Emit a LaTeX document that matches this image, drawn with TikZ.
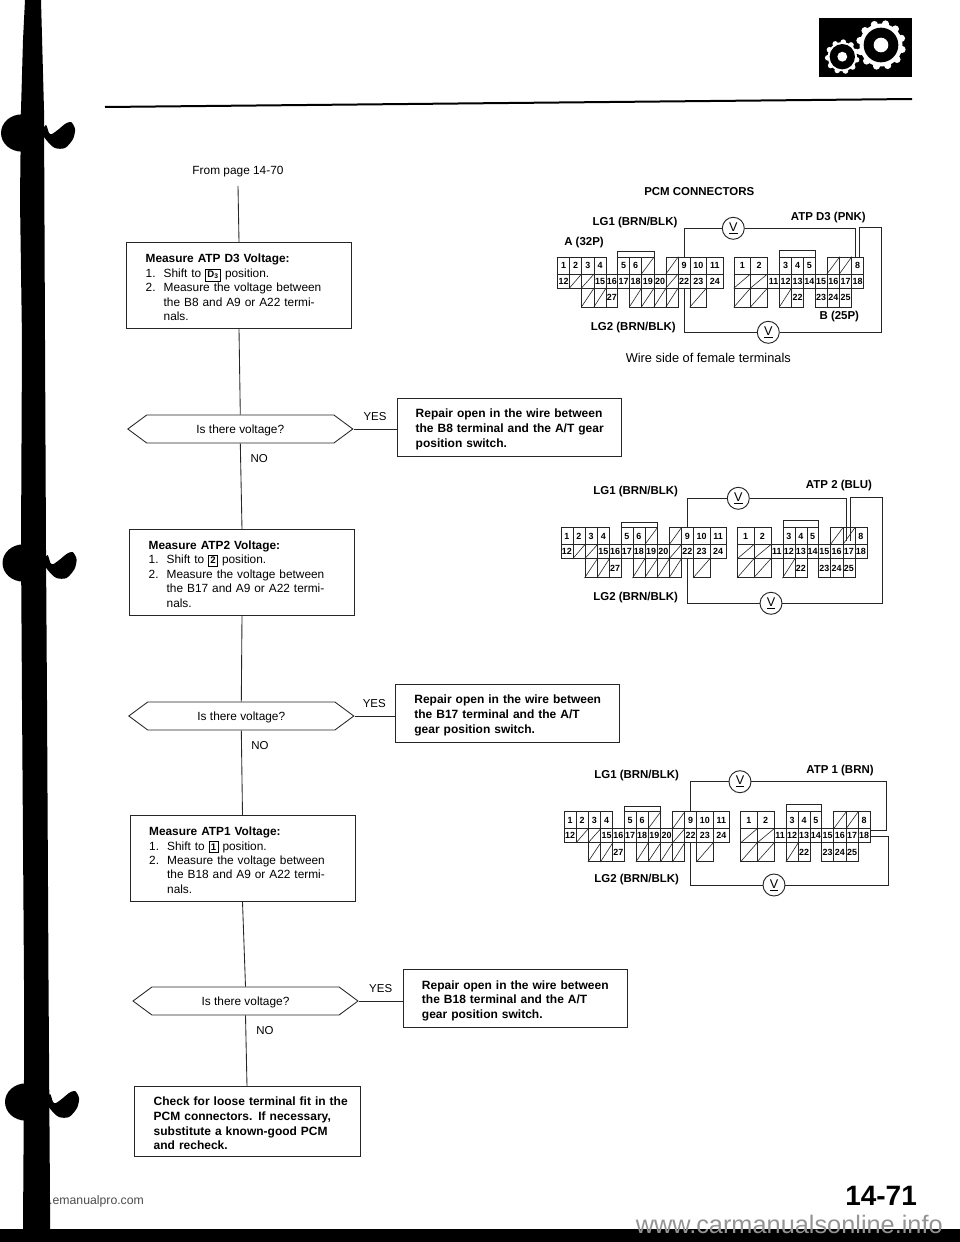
\documentclass[tikz,border=0pt]{standalone}
\usepackage{fontspec}
\setmainfont{Liberation Sans}
\usetikzlibrary{shapes.symbols}
\setlength{\fboxsep}{1.2pt}
\setlength{\fboxrule}{0.5pt}
\newcommand{\keycap}[1]{\fbox{\fontsize{7.2}{7}\selectfont\bfseries #1}}
\newcommand{\fitline}[1]{\makebox[\linewidth][s]{#1}}
\newcommand{\numline}[2]{\makebox[13.5pt][l]{#1}#2}
\newcommand{\topgap}[1]{\rule{0pt}{#1}}
\newcommand{\pincell}[6]{%
	\pgfmathsetmacro{\cellw}{(#3-#2)*0.75}%
	\pgfmathsetmacro{\cellh}{(#5-#4)*0.75}%
	\node[pinbox, minimum width=\cellw pt, minimum height=\cellh pt] (#1) at ({(#2+#3)/2},{(#4+#5)/2}) {#6};%
}
\newcommand{\pcmpair}[3]{%
	\begin{scope}[shift={(#2,#3)}, name prefix=#1]
		% connector A
		\draw[pinline] (617.5,257) -- (617.5,251.5) -- (654,251.5) -- (654,257);
		\foreach \xa/\xb/\txt in {557.5/569.5/1, 569.5/581.5/2, 581.5/594/3, 594/606/4, 617.5/629.5/5, 629.5/641.5/6, 678/690/9, 690/706.5/10, 706.5/723/11}
			{\pincell{a\txt}{\xa}{\xb}{257}{274}{\txt}}
		\foreach \xa/\xb/\txt in {557.5/569.5/12, 594/606/15, 606/617.5/16, 617.5/629.5/17, 629.5/641.5/18, 641.5/654/19, 654/666/20, 678/690/22, 690/706.5/23, 706.5/723/24}
			{\pincell{a\txt}{\xa}{\xb}{274}{288}{\txt}}
		\pincell{a27}{606}{617.5}{288}{307}{27}
		\foreach [count=\i] \xa/\xb/\ya/\yb in {641.5/654/257/274, 666/678/257/274, 569.5/581.5/274/288, 581.5/594/274/288, 666/678/274/288, 581.5/594/288/307, 594/606/288/307, 629.5/641.5/288/307, 641.5/654/288/307, 654/666/288/307, 666/678/288/307, 690/706.5/288/307}
			{\pincell{as\i}{\xa}{\xb}{\ya}{\yb}{}
			\draw[pinline] (as\i.south west) -- (as\i.north east);}
		% connector B
		\draw[pinline] (779.5,257) -- (779.5,250) -- (815,250) -- (815,257);
		\foreach \xa/\xb/\txt in {734/750.5/1, 750.5/767.5/2, 779.5/791.5/3, 791.5/803.5/4, 803.5/815/5, 851.5/863.5/8}
			{\pincell{b\txt}{\xa}{\xb}{257}{274}{\txt}}
		\foreach \xa/\xb/\txt in {767.5/779.5/11, 779.5/791.5/12, 791.5/803.5/13, 803.5/815/14, 815/827/15, 827/839.5/16, 839.5/851.5/17, 851.5/863.5/18}
			{\pincell{b\txt}{\xa}{\xb}{274}{288}{\txt}}
		\foreach \xa/\xb/\txt in {791.5/803.5/22, 815/827/23, 827/839.5/24, 839.5/851.5/25}
			{\pincell{b\txt}{\xa}{\xb}{288}{307}{\txt}}
		\foreach [count=\i] \xa/\xb/\ya/\yb in {827/839.5/257/274, 839.5/851.5/257/274, 734/750.5/274/288, 750.5/767.5/274/288, 734/750.5/288/307, 750.5/767.5/288/307, 779.5/791.5/288/307}
			{\pincell{bs\i}{\xa}{\xb}{\ya}{\yb}{}
			\draw[pinline] (bs\i.south west) -- (bs\i.north east);}
	\end{scope}
}
\tikzset{
	flowline/.style={line width=0.65pt, color=black!85},
	wire/.style={line width=0.7pt, color=black!85},
	pinline/.style={line width=0.45pt, color=black!85},
	pinbox/.style={draw=black!85, line width=0.45pt, inner sep=0pt, font=\fontsize{6.7}{7}\selectfont\bfseries},
	actbox/.style={draw=black!85, line width=0.65pt, minimum width=168.75pt, minimum height=64.5pt, inner sep=0pt, text width=140pt, align=left, font=\fontsize{8.9}{10.8}\selectfont},
	repairbox/.style={actbox, minimum width=168pt, minimum height=43.5pt, font=\fontsize{9}{11}\selectfont\bfseries},
	askbox/.style={draw=black!85, line width=0.65pt, signal, signal to=west and east, signal pointer angle=73, minimum width=168.75pt, minimum height=21pt, inner sep=0pt, text height=8.6pt, text depth=1.9pt, font=\fontsize{8.9}{10.8}\selectfont},
	meter/.style={draw=black!85, line width=0.7pt, circle, fill=white, minimum size=16.5pt, inner sep=0pt, font=\fontsize{9.5}{10}\selectfont},
	pcmlabel/.style={inner sep=0pt, font=\fontsize{8.6}{10}\selectfont\bfseries},
	flowlabel/.style={inner sep=0pt, font=\fontsize{8.6}{10}\selectfont},
}
\begin{document}
\begin{tikzpicture}[x=0.75pt, y=-0.75pt]
	%%%%% START %%%%%
	\useasboundingbox (0,0) rectangle (960,1242);

	% page furniture
	\node[anchor=base west, inner sep=0pt, text=black!70, font=\fontsize{9.2}{10}\selectfont] (site) at (23,1204) {www.emanualpro.com};
	\fill (25,0) -- (23,40) -- (21,110) -- (20,200) -- (22,340) -- (21,547) -- (22,700) -- (24,980) -- (24,1080) -- (23,1229)
		-- (50,1229) -- (50,1200) -- (48.5,980) -- (47,700) -- (46,550) -- (45,340) -- (44,110) -- (41,0) -- cycle;
	\foreach \bx/\by in {45/133, 46.5/563, 49/1102}{
		\fill (\bx-23,\by) ellipse [x radius=15.75pt, y radius=14pt];
		\fill plot [smooth cycle] coordinates {(\bx-3,\by) (\bx+1,\by-8) (\bx+4,\by) (\bx+7,\by+1) (\bx+14,\by-4) (\bx+20,\by-9) (\bx+26,\by-11) (\bx+30,\by-4) (\bx+28,\by+6) (\bx+20,\by+15) (\bx+10,\by+15) (\bx+3,\by+9)};
	}
	\fill (0,1229) rectangle (960,1242);
	\node[anchor=base east, inner sep=0pt, text=black!42, font=\fontsize{19}{20}\selectfont] (mark) at (943,1233) {www.carmanualsonline.info};
	\node[anchor=base west, inner sep=0pt, font=\fontsize{21}{22}\selectfont\bfseries] (pageno) at (845,1205.7) {14-71};

	\draw[line width=1.5pt] (105,107) -- (912,99);
	\fill (819,18.3) rectangle (911.7,77.3);
	\foreach \gx/\gy/\gr/\gt/\gn in {881/45/21.5/3.6/12, 842.3/56.7/14.6/2.8/11}{
		\fill[white] (\gx,\gy) circle [radius=\gr*0.75pt];
		\foreach \k in {1,...,\gn}
			\fill[white] ({\gx+\gr*cos(360*\k/\gn+12)},{\gy+\gr*sin(360*\k/\gn+12)}) circle [radius=\gt*0.75pt];
	}
	\fill (881,45) circle [radius=13pt];
	\fill (842.3,56.7) circle [radius=9.5pt];
	\fill[white] (881,45) circle [radius=5.5pt];
	\fill[white] (842.3,56.7) circle [radius=3.7pt];

	% flowchart
	\node[inner sep=0pt, minimum height=21pt, font=\fontsize{8.9}{10.8}\selectfont] (from) at (238,171.7) {From page 14-70};

	\node[actbox] (atpd3) at (239,285.5) {\topgap{9.5pt}\textbf{Measure ATP D3 Voltage:}\\
		\numline{1.}{Shift to \keycap{D\textsubscript{3}} position.}\\
		\numline{2.}{Measure the voltage between}\\
		\numline{}{the B8 and A9 or A22 termi-}\\
		\numline{}{nals.}};
	\node[askbox] (ask1) at (240.3,429) {Is there voltage?};
	\node[repairbox] (fix1) at (509,427) {\topgap{10pt}\fitline{Repair open in the wire between}\\
		\fitline{the B8 terminal and the A/T gear}\\
		position switch.};
	\node[flowlabel] (yes1) at (375,417) {YES};
	\node[flowlabel] (no1) at (259.3,459) {NO};

	\node[actbox] (atp2) at (242,572.7) {\topgap{8.5pt}\textbf{Measure ATP2 Voltage:}\\
		\numline{1.}{Shift to \keycap{2} position.}\\
		\numline{2.}{Measure the voltage between}\\
		\numline{}{the B17 and A9 or A22 termi-}\\
		\numline{}{nals.}};
	\node[askbox] (ask2) at (241.3,716) {Is there voltage?};
	\node[repairbox] (fix2) at (507.7,713) {\topgap{10pt}\fitline{Repair open in the wire between}\\
		\fitline{the B17 terminal and the A/T}\\
		gear position switch.};
	\node[flowlabel] (yes2) at (374.3,703.3) {YES};
	\node[flowlabel] (no2) at (260,745.7) {NO};

	\node[actbox] (atp1) at (242.5,858.3) {\topgap{9.5pt}\textbf{Measure ATP1 Voltage:}\\
		\numline{1.}{Shift to \keycap{1} position.}\\
		\numline{2.}{Measure the voltage between}\\
		\numline{}{the B18 and A9 or A22 termi-}\\
		\numline{}{nals.}};
	\node[askbox] (ask3) at (245.5,1001) {Is there voltage?};
	\node[repairbox] (fix3) at (515.3,998.3) {\topgap{10pt}\fitline{Repair open in the wire between}\\
		\fitline{the B18 terminal and the A/T}\\
		gear position switch.};
	\node[flowlabel] (yes3) at (380.7,989) {YES};
	\node[flowlabel] (no3) at (265,1030.7) {NO};

	\node[repairbox, minimum width=169.5pt, minimum height=52.5pt] (final) at (247,1121.9) {\topgap{9pt}\fitline{Check for loose terminal fit in the}\\
		\fitline{PCM connectors. If necessary,}\\
		\fitline{substitute a known-good PCM}\\
		and recheck.};

	\draw[flowline] (from.south) -- (atpd3.north);
	\draw[flowline] (atpd3.south) -- (ask1.north);
	\draw[flowline] (ask1.south) -- (atp2.north);
	\draw[flowline] (atp2.south) -- (ask2.north);
	\draw[flowline] (ask2.south) -- (atp1.north);
	\draw[flowline] (atp1.south) -- (ask3.north);
	\draw[flowline] (ask3.south) -- (final.north);
	\draw[flowline] (ask1.east) -- (fix1.west |- ask1.east);
	\draw[flowline] (ask2.east) -- (fix2.west |- ask2.east);
	\draw[flowline] (ask3.east) -- (fix3.west |- ask3.east);

	% connectors
	\node[pcmlabel] (title) at (699.3,191.7) {PCM CONNECTORS};
	\node[pcmlabel] (plug) at (584,242.3) {A (32P)};
	\node[pcmlabel] (socket) at (839.3,316.7) {B (25P)};
	\node[inner sep=0pt, font=\fontsize{9.6}{11}\selectfont] (side) at (708.3,357.7) {Wire side of female terminals};

	\pcmpair{top}{0}{0}
	\node[pcmlabel] (lg1top) at (635,222.3) {LG1 (BRN/BLK)};
	\node[pcmlabel] (lg2top) at (633.3,327.7) {LG2 (BRN/BLK)};
	\node[pcmlabel] (atptop) at (828.3,217.7) {ATP D3 (PNK)};
	\node[meter] (vtopa) at (733.3,228.3) {\underline{V}};
	\node[meter] (vtopb) at (768.3,332.3) {\underline{V}};
	\coordinate (wtopa) at (855,257);
	\coordinate (wtopb) at (859,257);
	\draw[wire] (vtopa.west) -| (topa9.north);
	\draw[wire] (vtopa.east) -| (wtopa);
	\draw[wire] (wtopb) -- (859,227) -- (881,227) |- (vtopb.east);
	\draw[wire] (topa22.south) |- (vtopb.west);

	\pcmpair{mid}{3.3}{270.7}
	\node[pcmlabel] (lg1mid) at (635.7,491.7) {LG1 (BRN/BLK)};
	\node[pcmlabel] (lg2mid) at (635.7,597.3) {LG2 (BRN/BLK)};
	\node[pcmlabel] (atpmid) at (839,486) {ATP 2 (BLU)};
	\node[meter] (vmida) at (738.3,498.3) {\underline{V}};
	\node[meter] (vmidb) at (771,603.3) {\underline{V}};
	\coordinate (wmida) at (846,541);
	\coordinate (wmidb) at (850,541);
	\draw[wire] (vmida.west) -| (mida9.north);
	\draw[wire] (vmida.east) -| (wmida);
	\draw[wire] (wmidb) -- (850,497.7) -- (882.7,497.7) |- (vmidb.east);
	\draw[wire] (mida22.south) |- (vmidb.west);

	\pcmpair{low}{6.7}{554.7}
	\node[pcmlabel] (lg1low) at (636.7,775.7) {LG1 (BRN/BLK)};
	\node[pcmlabel] (lg2low) at (636.7,879.3) {LG2 (BRN/BLK)};
	\node[pcmlabel] (atplow) at (840,771) {ATP 1 (BRN)};
	\node[meter] (vlowa) at (740,781.7) {\underline{V}};
	\node[meter] (vlowb) at (774,885) {\underline{V}};
	\coordinate (wlowa) at (870.2,830.5);
	\coordinate (wlowb) at (870.2,836);
	\draw[wire] (vlowa.west) -| (lowa9.north);
	\draw[wire] (vlowa.east) -- (886.7,781.7) -- (886.7,830.5) -- (wlowa);
	\draw[wire] (wlowb) -- (888.3,836) |- (vlowb.east);
	\draw[wire] (lowa22.south) |- (vlowb.west);
	%%%%% END %%%%%
\end{tikzpicture}
\end{document}
